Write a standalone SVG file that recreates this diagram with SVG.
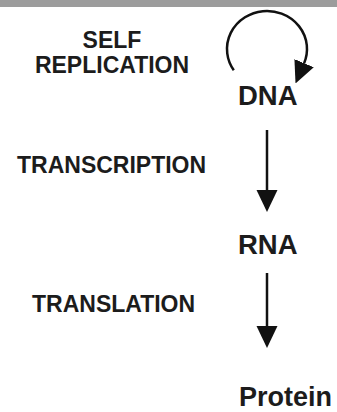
<svg xmlns="http://www.w3.org/2000/svg" width="337" height="412" viewBox="0 0 337 412">
  <style>
    .label { font-family: "Liberation Sans", Arial, Helvetica, sans-serif; font-weight: bold; font-size: 23px; fill: #1c1c1c; }
    .node { font-family: "Liberation Sans", Arial, Helvetica, sans-serif; font-weight: bold; font-size: 27.5px; fill: #1c1c1c; }
    .conn { fill: none; stroke: #111; stroke-width: 2.5; }
  </style>
  <defs>
    <marker id="head" markerUnits="userSpaceOnUse" markerWidth="22" markerHeight="22" refX="0" refY="10.5" orient="auto" viewBox="0 0 22 21">
      <path d="M0,0 L22,10.5 L0,21 Z" fill="#111"/>
    </marker>
  </defs>

  <rect width="337" height="412" fill="#ffffff"/>
  <!-- header rule -->
  <rect x="0" y="0" width="337" height="7" fill="#9c9c9c"/>

  <!-- process labels -->
  <g id="self-replication">
    <text class="label" x="112" y="48" text-anchor="middle">SELF</text>
    <text class="label" x="112" y="73" text-anchor="middle">REPLICATION</text>
  </g>
  <g id="transcription">
    <text class="label" x="17" y="173">TRANSCRIPTION</text>
  </g>
  <g id="translation">
    <text class="label" x="32" y="312">TRANSLATION</text>
  </g>

  <!-- molecules -->
  <g id="dna">
    <text class="node" x="238" y="105">DNA</text>
  </g>
  <g id="rna">
    <text class="node" x="238" y="254">RNA</text>
  </g>
  <g id="protein">
    <text class="node" x="239" y="406" style="font-size:27px">Protein</text>
  </g>

  <!-- connectors -->
  <g id="connectors">
    <path class="conn" d="M233.8,70.2 A40,38 0 1 1 304.1,63.2" marker-end="url(#head)"/>
    <path class="conn" d="M267,130 L267,190" marker-end="url(#head)"/>
    <path class="conn" d="M267,273 L267,326" marker-end="url(#head)"/>
  </g>
</svg>
